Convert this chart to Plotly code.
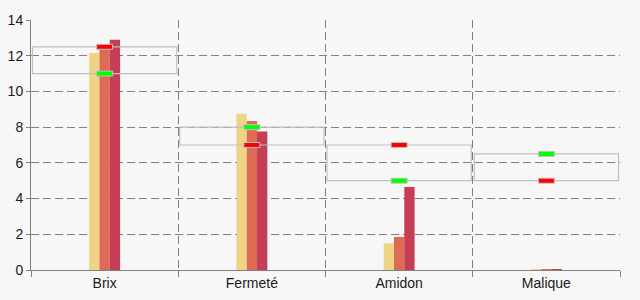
import plotly.graph_objects as go

categories = ["Brix", "Fermeté", "Amidon", "Malique"]
serie1 = [12.15, 8.75, 1.5, 0.05]
serie2 = [12.5, 8.35, 1.85, 0.05]
serie3 = [12.9, 7.75, 4.65, 0.05]
green_vals = [11, 8, 5, 6.5]
red_vals = [12.5, 7, 7, 5]
y_ticks = [0, 2, 4, 6, 8, 10, 12, 14]

colors = ["#EED484", "#DE6B55", "#C63D56"]

fig = go.Figure()
for vals, c in zip([serie1, serie2, serie3], colors):
    fig.add_trace(go.Bar(x=categories, y=vals, marker=dict(color=c, line=dict(width=0)),
                         showlegend=False, hoverinfo="skip"))

shapes = []
for i, (g, r) in enumerate(zip(green_vals, red_vals)):
    shapes.append(dict(type="rect", xref="x", yref="y", x0=i - 0.49, x1=i + 0.49,
                       y0=min(g, r), y1=max(g, r), line=dict(color="#c0c0c0", width=1.2),
                       fillcolor="rgba(0,0,0,0)", layer="above"))
for vals, col in [(green_vals, "#00FF00"), (red_vals, "#FF0000")]:
    for i, v in enumerate(vals):
        shapes.append(dict(type="rect", xref="x", yref="y",
                           xsizemode="pixel", ysizemode="pixel",
                           xanchor=i, yanchor=v, x0=-8, x1=8, y0=-2.5, y1=2.5,
                           fillcolor=col, line=dict(color="#c0c0c0", width=1), layer="above"))

fig.update_layout(
    width=640, height=300,
    margin=dict(l=31, r=20, t=20, b=30, autoexpand=False),
    paper_bgcolor="#f7f7f7", plot_bgcolor="#f7f7f7",
    barmode="group", bargap=0.79, bargroupgap=0,
    font=dict(family="Liberation Sans, Arial, sans-serif", size=14, color="#1a1a1a"),
    shapes=shapes,
    xaxis=dict(type="category", tickson="boundaries", showgrid=True, gridcolor="#808080",
               griddash="8px,4px", gridwidth=1, showline=True, linecolor="#808080",
               ticks="outside", ticklen=6, tickcolor="#808080", range=[-0.5, 3.5],
               zeroline=False, automargin=False),
    yaxis=dict(range=[0, 14], tickvals=y_ticks, showgrid=True, gridcolor="#808080",
               griddash="8px,4px", gridwidth=1, showline=True, linecolor="#808080",
               ticks="outside", ticklen=4, tickcolor="#808080", zeroline=False,
               automargin=False),
)

fig.write_html("out.html")
